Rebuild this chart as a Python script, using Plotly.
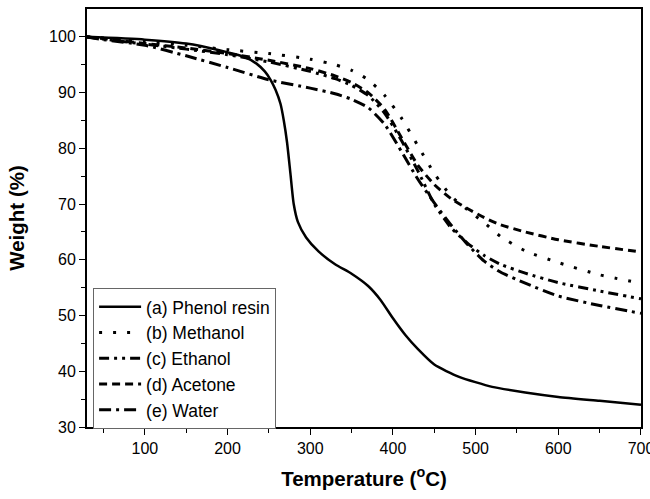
import plotly.graph_objects as go

# Temperature (°C) and weight (%) for each sample
temp_a = [30, 100, 150, 190, 220, 235, 245, 252, 258, 264, 268, 272, 276, 280, 285, 295, 310, 330, 350,
          370, 385, 400, 415, 430, 450, 480, 520, 560, 600, 650, 700]
weight_a = [100, 99.5, 98.8, 97.6, 96.4, 95.2, 93.8, 92.3, 90.5, 88, 85, 81, 75.5, 70, 66.8, 64, 61.5, 59.2, 57.5,
            55.3, 52.8, 49.5, 46.5, 44, 41.2, 39, 37.2, 36.2, 35.4, 34.7, 34.0]

temp_common = [30, 50, 100, 150, 200, 250, 300, 330, 350, 370, 390, 410, 430, 450, 470, 490, 510, 530, 560, 600, 650, 700]
weight_b = [100, 99.8, 99.2, 98.5, 97.7, 97.0, 96.0, 95.0, 94.0, 92.3, 89.5, 85.5, 80.5, 75.5, 71.5, 69.0, 66.7, 64.2, 61.6, 59.5, 57.3, 55.8]
weight_c = [100, 99.6, 98.7, 97.8, 96.8, 95.5, 93.8, 92.5, 91.3, 89.5, 86.3, 81.5, 76.0, 70.0, 65.8, 63.0, 60.8, 59.2, 57.6, 55.9, 54.4, 53.0]
weight_d = [100, 99.7, 98.8, 98.0, 97.0, 95.8, 94.3, 93.0, 91.8, 90.0, 87.0, 82.0, 77.0, 73.5, 71.0, 69.2, 67.6, 66.3, 65.0, 63.6, 62.4, 61.4]
weight_e = [100, 99.5, 98.5, 96.6, 94.5, 92.3, 90.8, 89.8, 88.8, 87.3, 84.3, 79.5, 74.5, 70.2, 66.3, 62.8, 59.8, 57.8, 55.8, 53.5, 51.8, 50.4]

names = ["(a) Phenol resin", "(b) Methanol", "(c) Ethanol", "(d) Acetone", "(e) Water"]

x_ticks = [100, 200, 300, 400, 500, 600, 700]
x_minor = [50, 150, 250, 350, 450, 550, 650]
y_ticks = [30, 40, 50, 60, 70, 80, 90, 100]
y_minor = [35, 45, 55, 65, 75, 85, 95]

fig = go.Figure()
series = [
    (temp_a, weight_a, "solid", 2.5),
    (temp_common, weight_b, "3px,11px", 3),
    (temp_common, weight_c, "10px,5px,3px,5px,3px,5px", 3),
    (temp_common, weight_d, "8px,5px", 3),
    (temp_common, weight_e, "12px,5px,3px,5px", 3),
]
for (x, y, dash, w), name in zip(series, names):
    fig.add_trace(go.Scatter(x=x, y=y, mode="lines", name=name,
                             line=dict(color="black", width=w, dash=dash, shape="spline", smoothing=0.6)))

FONT = "Liberation Sans, Arial"
axis_common = dict(showline=True, linecolor="black", linewidth=2, mirror=True,
                   ticks="outside", ticklen=6, tickwidth=1.3, tickcolor="black",
                   showgrid=False, zeroline=False, automargin=False,
                   ticklabeloverflow="allow",
                   tickfont=dict(family=FONT, size=16, color="black"))

fig.update_xaxes(range=[30, 700.01], tickvals=x_ticks,
                 minor=dict(ticks="outside", tickvals=x_minor, ticklen=4, tickcolor="black"),
                 title=dict(text="Temperature (<sup>o</sup>C)", standoff=15,
                            font=dict(family=FONT, size=20.5, color="black", weight="bold")),
                 **axis_common)
fig.update_yaxes(range=[30, 105], tickvals=y_ticks,
                 minor=dict(ticks="outside", tickvals=y_minor, ticklen=4, tickcolor="black"),
                 title=dict(text="Weight (%)", standoff=19,
                            font=dict(family=FONT, size=20.5, color="black", weight="bold")),
                 **axis_common)

fig.update_layout(
    width=650, height=499,
    margin=dict(l=87, r=9, t=9, b=72),
    plot_bgcolor="white", paper_bgcolor="white",
    showlegend=True,
    legend=dict(x=0.011, y=0.333, xanchor="left", yanchor="top",
                bgcolor="white", bordercolor="#666666", borderwidth=1,
                font=dict(family=FONT, size=17.5, color="black"),
                tracegroupgap=0, itemwidth=42),
)

fig.write_html("out.html", config={"displayModeBar": False},
               post_script="document.body.style.margin='0';")
